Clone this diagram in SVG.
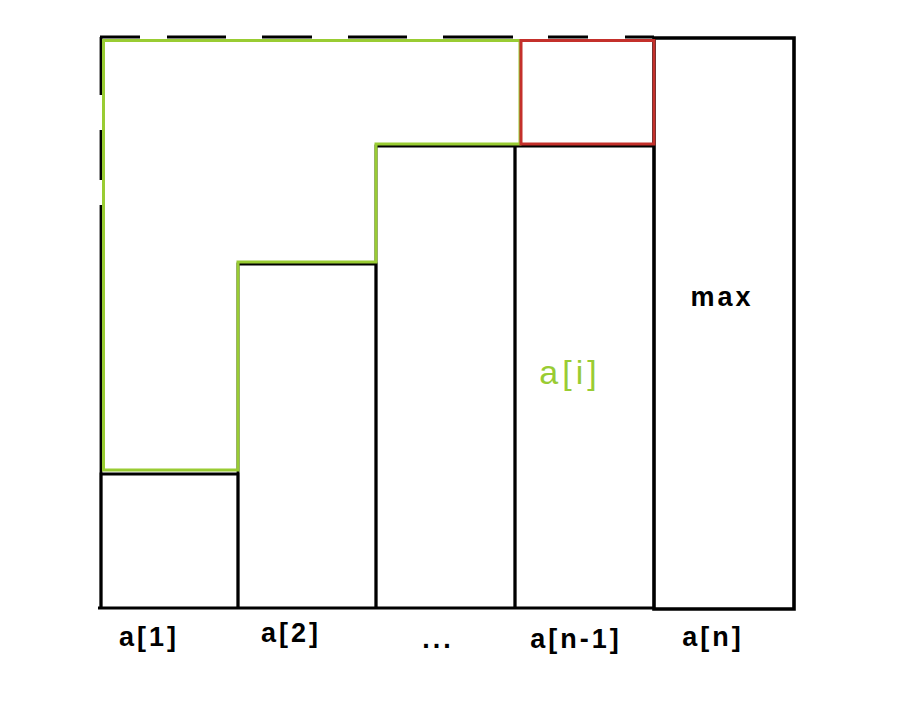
<svg xmlns="http://www.w3.org/2000/svg" width="910" height="728" viewBox="0 0 910 728">
<style>
.bar{fill:none;stroke:#000;stroke-width:2.8;stroke-linejoin:miter}
.dash{fill:none;stroke:#000;stroke-width:2.8}
.green{fill:none;stroke:#99cc33;stroke-width:3}
.red{fill:none;stroke:#c4302b;stroke-width:3}
.lbl{font-family:"Liberation Sans",Arial,sans-serif;font-size:27px;fill:#000;font-weight:bold;letter-spacing:3px}
.glbl{font-family:"Liberation Sans",Arial,sans-serif;font-size:34px;fill:#99cc33;letter-spacing:4px}
</style>
<rect width="910" height="728" fill="#fff"/>
<g id="outline-dashed">
<path class="dash" d="M100,37 H140 M167,37 H226 M262,37 H312 M348,37 H407 M443,37 H513 M548,37 H588 M625,37 H654"/>
<path class="dash" d="M101,37 V95 M101,130 V180 M101,205 V608"/>
</g>
<g id="bar1"><path class="bar" d="M101,608 V474 H238 V608"/><text class="lbl" x="149" y="646" text-anchor="middle">a[1]</text></g>
<g id="bar2"><path class="bar" d="M238,608 V264 H376 V608"/><text class="lbl" x="291" y="642" text-anchor="middle">a[2]</text></g>
<g id="bar3"><path class="bar" d="M376,608 V146 H515 V608"/><text class="lbl" x="438" y="648" text-anchor="middle">...</text></g>
<g id="bar4"><path class="bar" d="M515,608 V146 H654"/><text class="lbl" x="576" y="648" text-anchor="middle">a[n-1]</text></g>
<g id="bar5"><path class="bar" style="stroke-width:3.6" d="M654,38 H794 V609 H654 Z"/><text class="lbl" x="722" y="306" text-anchor="middle">max</text><text class="lbl" x="713" y="646" text-anchor="middle">a[n]</text></g>
<g id="baseline"><path class="bar" d="M98,608 H654"/></g>
<g id="green-region"><path class="green" d="M103.5,470 H238 V262 H376 V144 H520 V40.5 H103.5 Z"/><text class="glbl" x="570" y="384" text-anchor="middle">a[i]</text></g>
<g id="red-box"><rect class="red" x="521" y="40.5" width="133" height="103.5"/></g>
</svg>
